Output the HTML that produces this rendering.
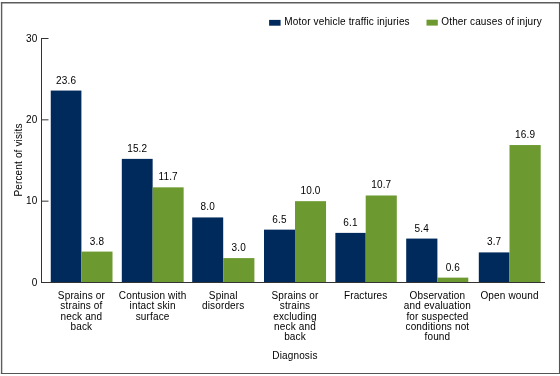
<!DOCTYPE html><html><head><meta charset="utf-8"><style>html,body{margin:0;padding:0;background:#fff;width:560px;height:376px;overflow:hidden}svg{display:block;will-change:transform}text{font-family:"Liberation Sans",sans-serif;font-size:10.0px;letter-spacing:0.15px;fill:#000}</style></head><body>
<svg width="560" height="376" viewBox="0 0 560 376">
<rect x="0" y="0" width="560" height="376" fill="#fff"/>
<path d="M0.9 2.8H560" stroke="#5c5c5c" stroke-width="1.5"/><path d="M1.6 2.1V374.1" stroke="#5c5c5c" stroke-width="1.4"/><path d="M559.5 2.1V374.1" stroke="#555" stroke-width="1.1"/><path d="M0.9 373.5H560" stroke="#555" stroke-width="1.2"/>
<rect x="50.75" y="90.56" width="30.65" height="191.94" fill="#002a5c"/>
<rect x="81.40" y="251.59" width="31.10" height="30.91" fill="#6c9a30"/>
<text x="66.08" y="83.56" text-anchor="middle">23.6</text>
<text x="96.95" y="244.59" text-anchor="middle">3.8</text>
<text x="81.40" y="299.00" text-anchor="middle">Sprains or</text>
<text x="81.40" y="309.35" text-anchor="middle">strains of</text>
<text x="81.40" y="319.70" text-anchor="middle">neck and</text>
<text x="81.40" y="330.05" text-anchor="middle">back</text>
<rect x="121.80" y="158.88" width="30.85" height="123.62" fill="#002a5c"/>
<rect x="152.65" y="187.34" width="31.00" height="95.16" fill="#6c9a30"/>
<text x="137.22" y="151.88" text-anchor="middle">15.2</text>
<text x="168.15" y="180.34" text-anchor="middle">11.7</text>
<text x="152.65" y="299.00" text-anchor="middle">Contusion with</text>
<text x="152.65" y="309.35" text-anchor="middle">intact skin</text>
<text x="152.65" y="319.70" text-anchor="middle">surface</text>
<rect x="192.20" y="217.44" width="31.00" height="65.06" fill="#002a5c"/>
<rect x="223.20" y="258.10" width="31.20" height="24.40" fill="#6c9a30"/>
<text x="207.70" y="210.44" text-anchor="middle">8.0</text>
<text x="238.80" y="251.10" text-anchor="middle">3.0</text>
<text x="223.20" y="299.00" text-anchor="middle">Spinal</text>
<text x="223.20" y="309.35" text-anchor="middle">disorders</text>
<rect x="264.00" y="229.64" width="31.00" height="52.86" fill="#002a5c"/>
<rect x="295.00" y="201.17" width="31.05" height="81.33" fill="#6c9a30"/>
<text x="279.50" y="222.64" text-anchor="middle">6.5</text>
<text x="310.52" y="194.17" text-anchor="middle">10.0</text>
<text x="295.00" y="299.00" text-anchor="middle">Sprains or</text>
<text x="295.00" y="309.35" text-anchor="middle">strains</text>
<text x="295.00" y="319.70" text-anchor="middle">excluding</text>
<text x="295.00" y="330.05" text-anchor="middle">neck and</text>
<text x="295.00" y="340.40" text-anchor="middle">back</text>
<rect x="335.35" y="232.89" width="30.35" height="49.61" fill="#002a5c"/>
<rect x="365.70" y="195.48" width="31.10" height="87.02" fill="#6c9a30"/>
<text x="350.52" y="225.89" text-anchor="middle">6.1</text>
<text x="381.25" y="188.48" text-anchor="middle">10.7</text>
<text x="365.70" y="299.00" text-anchor="middle">Fractures</text>
<rect x="406.20" y="238.58" width="31.20" height="43.92" fill="#002a5c"/>
<rect x="437.40" y="277.62" width="30.90" height="4.88" fill="#6c9a30"/>
<text x="421.80" y="231.58" text-anchor="middle">5.4</text>
<text x="452.85" y="270.62" text-anchor="middle">0.6</text>
<text x="437.40" y="299.00" text-anchor="middle">Observation</text>
<text x="437.40" y="309.35" text-anchor="middle">and evaluation</text>
<text x="437.40" y="319.70" text-anchor="middle">for suspected</text>
<text x="437.40" y="330.05" text-anchor="middle">conditions not</text>
<text x="437.40" y="340.40" text-anchor="middle">found</text>
<rect x="478.80" y="252.41" width="30.70" height="30.09" fill="#002a5c"/>
<rect x="509.50" y="145.05" width="31.20" height="137.45" fill="#6c9a30"/>
<text x="494.15" y="245.41" text-anchor="middle">3.7</text>
<text x="525.10" y="138.05" text-anchor="middle">16.9</text>
<text x="509.50" y="299.00" text-anchor="middle">Open wound</text>
<path d="M41.5 38 V283 M41 282.5 H545" stroke="#333" stroke-width="1" fill="none"/>
<path d="M41 282.50 H48.5" stroke="#333" stroke-width="1"/>
<text x="37.5" y="286.00" text-anchor="end">0</text>
<path d="M41 201.17 H48.5" stroke="#333" stroke-width="1"/>
<text x="37.5" y="204.37" text-anchor="end">10</text>
<path d="M41 119.84 H48.5" stroke="#333" stroke-width="1"/>
<text x="37.5" y="123.34" text-anchor="end">20</text>
<path d="M41 38.51 H48.5" stroke="#333" stroke-width="1"/>
<text x="37.5" y="41.61" text-anchor="end">30</text>
<text transform="translate(22.2 160) rotate(-90)" text-anchor="middle">Percent of visits</text>
<text x="294.9" y="358.8" text-anchor="middle">Diagnosis</text>
<rect x="269.1" y="19.9" width="11.5" height="5.8" fill="#002a5c"/>
<text x="284.3" y="25.3">Motor vehicle traffic injuries</text>
<rect x="426.5" y="19.7" width="11.3" height="5.9" fill="#6c9a30"/>
<text x="441.3" y="25.3">Other causes of injury</text>
</svg></body></html>
